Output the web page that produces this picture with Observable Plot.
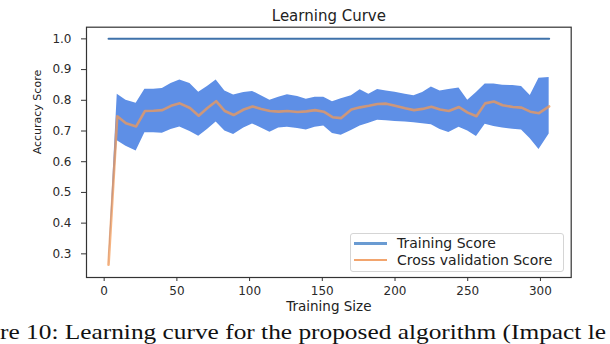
<!DOCTYPE html>
<html>
<head>
<meta charset="utf-8">
<script src="https://cdn.jsdelivr.net/npm/d3@7"></script>
<script src="https://cdn.jsdelivr.net/npm/@observablehq/plot@0.6"></script>
<style>
  html, body { margin: 0; padding: 0; background: #fff; overflow: hidden; width: 610px; height: 344px; }
  #wrap { position: relative; width: 610px; height: 344px; overflow: hidden; }
  #legend { position: absolute; left: 350px; top: 233px; width: 212px; height: 37px;
    border: 1px solid #d5d5d5; border-radius: 3px; background: rgba(255,255,255,0.85);
    font-family: "DejaVu Sans", sans-serif; font-size: 14px; color: #222; }
  .row { position: absolute; left: 0; height: 17px; line-height: 17px; width: 100%; }
  .sw { position: absolute; left: 3px; top: 7.2px; width: 33px; height: 2.6px; }
  .lab { position: absolute; left: 46px; top: 0; white-space: nowrap; }
  #caption { position: absolute; left: 0px; top: 321.5px; font-family: "Liberation Serif", serif;
    font-size: 21px; line-height: 1; white-space: nowrap; color: #111;
    transform-origin: 0 0; }
</style>
</head>
<body>
<div id="wrap"></div>
<script>
const trainSizes = [3, 9, 15, 22, 28, 34, 40, 46, 52, 59, 65, 71, 77, 83, 89, 96, 102, 108, 114, 120,
  126, 133, 139, 145, 151, 157, 163, 170, 176, 182, 188, 194, 200, 207, 213, 219, 225, 231, 237, 244,
  250, 256, 262, 268, 274, 281, 287, 293, 299, 306];
const trainScore = [1.0, 1.0, 1.0, 1.0, 1.0, 1.0, 1.0, 1.0, 1.0, 1.0, 1.0, 1.0, 1.0, 1.0, 1.0, 1.0, 1.0, 1.0, 1.0, 1.0,
  1.0, 1.0, 1.0, 1.0, 1.0, 1.0, 1.0, 1.0, 1.0, 1.0, 1.0, 1.0, 1.0, 1.0, 1.0, 1.0, 1.0, 1.0, 1.0, 1.0,
  1.0, 1.0, 1.0, 1.0, 1.0, 1.0, 1.0, 1.0, 1.0, 1.0];
const cvScore = [0.265, 0.748, 0.725, 0.715, 0.765, 0.766, 0.768, 0.782, 0.790, 0.775,
  0.750, 0.775, 0.797, 0.765, 0.752, 0.770, 0.780, 0.772, 0.765, 0.763,
  0.765, 0.762, 0.764, 0.768, 0.763, 0.745, 0.742, 0.770, 0.777, 0.782,
  0.788, 0.789, 0.782, 0.774, 0.768, 0.772, 0.779, 0.770, 0.765, 0.778,
  0.760, 0.748, 0.790, 0.796, 0.784, 0.778, 0.776, 0.763, 0.758, 0.780];
const cvUpper = [0.272, 0.820, 0.800, 0.790, 0.836, 0.836, 0.838, 0.855, 0.866, 0.855,
  0.826, 0.845, 0.866, 0.830, 0.817, 0.825, 0.829, 0.815, 0.800, 0.810,
  0.818, 0.812, 0.803, 0.810, 0.810, 0.795, 0.805, 0.815, 0.834, 0.820,
  0.835, 0.830, 0.826, 0.820, 0.815, 0.825, 0.843, 0.830, 0.835, 0.840,
  0.800, 0.825, 0.853, 0.853, 0.849, 0.848, 0.845, 0.816, 0.872, 0.874];
const cvLower = [0.258, 0.668, 0.650, 0.635, 0.694, 0.694, 0.693, 0.705, 0.713, 0.698,
  0.683, 0.705, 0.729, 0.700, 0.689, 0.710, 0.723, 0.710, 0.696, 0.710,
  0.712, 0.708, 0.703, 0.712, 0.716, 0.692, 0.686, 0.702, 0.716, 0.725,
  0.735, 0.733, 0.731, 0.729, 0.727, 0.724, 0.720, 0.705, 0.695, 0.712,
  0.700, 0.682, 0.722, 0.715, 0.710, 0.706, 0.703, 0.675, 0.640, 0.690];
const xTicks = [0, 50, 100, 150, 200, 250, 300];
const yTicks = [0.3, 0.4, 0.5, 0.6, 0.7, 0.8, 0.9, 1.0];
const titleText = ["Learning Curve"];
const xLabelText = ["Training Size"];
const yLabelText = ["Accuracy Score"];
const seriesNames = ["Training Score", "Cross validation Score"];
const captionText = "re 10: Learning curve for the proposed algorithm (Impact le";

const colors = { band: "#5e8fe6", train: "#3f72aa", cv: "#f39a55", trainLegend: "#6a9bd2", cvLegend: "#f2a56e" };

const data = trainSizes.map((x, i) => ({ x, train: trainScore[i], cv: cvScore[i], lo: cvLower[i], hi: cvUpper[i] }));

const chart = Plot.plot({
  width: 610,
  height: 344,
  marginLeft: 86,
  marginRight: 39.3,
  marginTop: 26.7,
  marginBottom: 67,
  x: { domain: [-12.15, 321.15] },
  y: { domain: [0.223, 1.038] },
  style: { fontFamily: "DejaVu Sans, sans-serif", fontSize: "12px", color: "#2a2a2a", background: "transparent", overflow: "visible" },
  marks: [
    Plot.areaY(data, { x: "x", y1: "lo", y2: "hi", fill: colors.band }),
    Plot.lineY(data, { x: "x", y: "train", stroke: colors.train, strokeWidth: 2 }),
    Plot.lineY(data, { x: "x", y: "cv", stroke: colors.cv, strokeWidth: 2.6, strokeOpacity: 0.75 }),
    Plot.frame({ stroke: "#333", strokeWidth: 1.2 }),
    Plot.axisX({ ticks: xTicks, tickSize: 4, tickPadding: 5, label: null, stroke: "#333" }),
    Plot.axisY({ ticks: yTicks, tickFormat: d3.format(".1f"), tickSize: 5, tickPadding: 10, label: null, stroke: "#333" }),
    Plot.text(titleText, { frameAnchor: "top", lineAnchor: "bottom", dy: -6, fontSize: 15, fill: "#222" }),
    Plot.text(xLabelText, { frameAnchor: "bottom", lineAnchor: "middle", dy: 29, fontSize: 13.5, fill: "#222" }),
    Plot.text(yLabelText, { frameAnchor: "left", lineAnchor: "middle", dx: -49.5, dy: 2, rotate: -90, fontSize: 11, fill: "#222" })
  ]
});

const wrap = document.getElementById("wrap");
wrap.appendChild(chart);
chart.style.position = "absolute";
chart.style.left = "0px";
chart.style.top = "0px";

const legend = document.createElement("div");
legend.id = "legend";
const legendColors = [colors.trainLegend, colors.cvLegend];
const rowTops = [0.9, 17.5];
seriesNames.forEach((name, i) => {
  const row = document.createElement("div");
  row.className = "row";
  row.style.top = rowTops[i] + "px";
  const sw = document.createElement("div");
  sw.className = "sw";
  sw.style.background = legendColors[i];
  const lab = document.createElement("span");
  lab.className = "lab";
  lab.textContent = name;
  row.appendChild(sw);
  row.appendChild(lab);
  legend.appendChild(row);
});
wrap.appendChild(legend);

const cap = document.createElement("div");
cap.id = "caption";
cap.textContent = captionText;
wrap.appendChild(cap);
const capW = cap.getBoundingClientRect().width;
cap.style.transform = "scaleX(" + (606 / capW) + ")";
</script>
</body>
</html>
